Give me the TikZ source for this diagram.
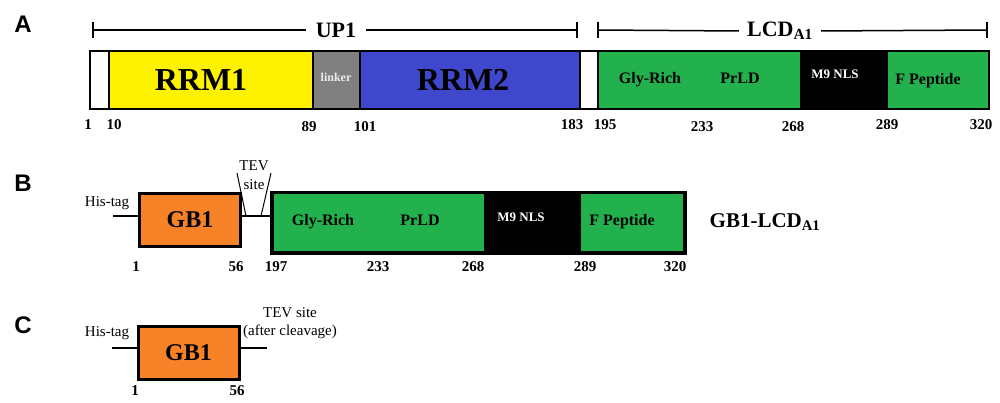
\documentclass[tikz,border=0pt]{standalone}
\usepackage{fontspec}
\setmainfont{Liberation Serif}
\newfontfamily\panelfont{Liberation Sans}
\definecolor{rrmyellow}{RGB}{255,242,0}
\definecolor{linkgrey}{RGB}{128,128,128}
\definecolor{rrmblue}{RGB}{63,72,204}
\definecolor{lcdgreen}{RGB}{34,177,76}
\definecolor{gborange}{RGB}{247,130,40}
\begin{document}
\begin{tikzpicture}[x=1pt,y=-1pt,
  seg/.style={draw=black,line width=2pt,inner sep=0pt,anchor=north west,minimum height=58pt},
  segb/.style={draw=black,line width=3.5pt,inner sep=0pt,anchor=north west,minimum height=60pt},
  gbbox/.style={draw=black,line width=3pt,fill=gborange,inner sep=0pt,anchor=north west,minimum height=53pt,minimum width=101pt},
  lbl/.style={font=\bfseries\fontsize{16}{16}\selectfont,inner sep=0pt,anchor=base},
  small/.style={font=\bfseries\fontsize{13}{13}\selectfont,inner sep=0pt,text=white},
  num/.style={font=\bfseries\fontsize{15}{15}\selectfont,inner sep=0pt},
  big/.style={font=\bfseries\fontsize{32}{32}\selectfont,inner sep=0pt},
  gbtxt/.style={font=\bfseries\fontsize{24}{24}\selectfont,inner sep=0pt},
  panel/.style={font=\panelfont\bfseries\fontsize{24}{24}\selectfont,inner sep=0pt},
  reg/.style={font=\fontsize{15}{15}\selectfont,inner sep=0pt,align=center},
  brk/.style={line width=1.5pt},
  tail/.style={line width=2.5pt},
  thin/.style={line width=1pt}]
\useasboundingbox (0,0) rectangle (1000,403);

% ---------- Panel A ----------
\node[panel] (pA) at (23,24) {A};
\coordinate (up1L) at (93,30);
\coordinate (up1R) at (577,30);
\node[font=\bfseries\fontsize{22}{22}\selectfont,inner ysep=0pt,inner xsep=10pt] (up1) at (336,30) {UP1};
\draw[brk] (up1L) -- (up1.west) (up1.east) -- (up1R);
\draw[brk] (up1L) ++(0,-8) -- ++(0,16);
\draw[brk] (up1R) ++(0,-8) -- ++(0,16);
\coordinate (lcdL) at (598,30);
\coordinate (lcdR) at (987,30);
\node[font=\bfseries\fontsize{22}{22}\selectfont,inner ysep=0pt,inner xsep=8pt] (lcd) at (780,31) {LCD\textsubscript{A1}};
\draw[brk] (lcdL) -- (lcd.west) (lcd.east) -- (lcdR);
\draw[brk] (lcdL) ++(0,-8) -- ++(0,16);
\draw[brk] (lcdR) ++(0,-8) -- ++(0,16);

\node[seg,fill=white,minimum width=19pt] (aw1) at (89,50) {};
\node[seg,fill=rrmyellow,minimum width=204pt] (arrm1) at (108,50) {};
\node[seg,fill=linkgrey,minimum width=47pt] (alink) at (312,50) {};
\node[seg,fill=rrmblue,minimum width=220pt] (arrm2) at (359,50) {};
\node[seg,fill=white,minimum width=18pt] (aw2) at (579,50) {};
\node[seg,fill=lcdgreen,minimum width=203pt] (agly) at (597,50) {};
\node[seg,fill=black,minimum width=86pt] (anls) at (800,50) {};
\node[seg,fill=lcdgreen,minimum width=102pt] (afp) at (886,50) {};

\node[big] (trrm1) at (201,80) {RRM1};
\node[font=\bfseries\fontsize{12}{12}\selectfont,inner sep=0pt,text=white!92!black] (tlink) at (336,77) {linker};
\node[big] (trrm2) at (463,80) {RRM2};
\node[lbl] (tgly) at (650,84) {Gly-Rich};
\node[lbl] (tprld) at (740,84) {PrLD};
\node[small] (tnls) at (835,74) {M9 NLS};
\node[lbl] (tfp) at (928,84.5) {F Peptide};

\node[num] at (88,125) {1};
\node[num] at (114,125) {10};
\node[num] at (309,127) {89};
\node[num] at (365,127) {101};
\node[num] at (572,125) {183};
\node[num] at (605,125) {195};
\node[num] at (702,127) {233};
\node[num] at (793,127) {268};
\node[num] at (887,125) {289};
\node[num] at (981,125) {320};

% ---------- Panel B ----------
\node[panel] (pB) at (23,183) {B};
\node[reg] (hisB) at (107,203) {His-tag};
\coordinate (hisBend) at (113,216);
\node[gbbox] (gbB) at (138,192) {};
\node[gbtxt] at (gbB.center) {GB1};
\node[segb,fill=lcdgreen,minimum width=214pt] (bgly) at (270,191) {};
\node[segb,fill=black,minimum width=93pt] (bnls) at (484,191) {};
\node[segb,fill=lcdgreen,minimum width=106pt] (bfp) at (577,191) {};
\draw[tail] (hisBend) -- (gbB.west |- hisBend);
\draw[tail] (gbB.east |- hisBend) -- (bgly.west |- hisBend);
\node[reg] (tevB) at (254,166) {TEV};
\node[reg] (siteB) at (254,185) {site};
\draw[thin] (237,173) -- (246,216);
\draw[thin] (271,173) -- (261,216);

\node[lbl] at (323,225.5) {Gly-Rich};
\node[lbl] at (420,225.5) {PrLD};
\node[small] at (521,217) {M9 NLS};
\node[lbl] at (622,225.5) {F Peptide};
\node[font=\bfseries\fontsize{21}{21}\selectfont,inner sep=0pt] (glcd) at (765,222) {GB1-LCD\textsubscript{A1}};

\node[num] at (136,267) {1};
\node[num] at (236,267) {56};
\node[num] at (276,267) {197};
\node[num] at (378,267) {233};
\node[num] at (473,267) {268};
\node[num] at (585,267) {289};
\node[num] at (675,267) {320};

% ---------- Panel C ----------
\node[panel] (pC) at (23,325) {C};
\node[reg] (hisC) at (107,333) {His-tag};
\coordinate (hisCend) at (112,348);
\coordinate (tevCend) at (267,348);
\node[gbbox] (gbC) at (136.5,324.5) {};
\node[gbtxt] at (gbC.center) {GB1};
\draw[tail] (hisCend) -- (gbC.west |- hisCend);
\draw[tail] (gbC.east |- tevCend) -- (tevCend);
\node[reg] (tevC) at (290,313) {TEV site};
\node[reg] (cleav) at (290,332) {(after cleavage)};
\node[num] at (135,391) {1};
\node[num] at (237,391) {56};
\end{tikzpicture}
\end{document}
